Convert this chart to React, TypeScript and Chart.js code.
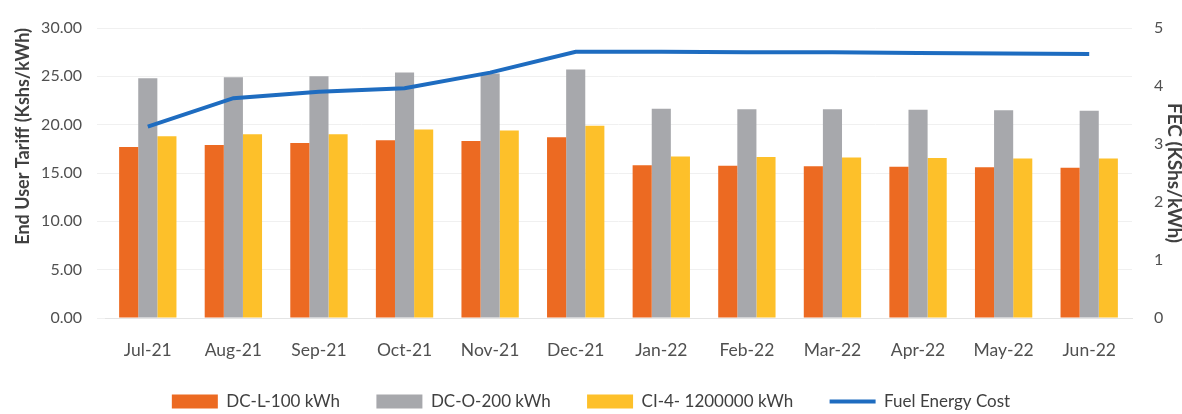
import React, { useEffect, useRef } from "react";
import { Chart, registerables } from "chart.js";

Chart.register(...registerables);

const months = ["Jul-21", "Aug-21", "Sep-21", "Oct-21", "Nov-21", "Dec-21", "Jan-22", "Feb-22", "Mar-22", "Apr-22", "May-22", "Jun-22"];
const dcL100 = [17.7, 17.9, 18.1, 18.4, 18.3, 18.7, 15.8, 15.75, 15.7, 15.65, 15.6, 15.55];
const dcO200 = [24.8, 24.9, 25.0, 25.4, 25.3, 25.7, 21.65, 21.6, 21.6, 21.55, 21.5, 21.45];
const ci4 = [18.8, 19.0, 19.0, 19.5, 19.4, 19.9, 16.7, 16.65, 16.6, 16.55, 16.5, 16.5];
const fec = [3.3, 3.79, 3.9, 3.96, 4.23, 4.59, 4.59, 4.58, 4.58, 4.57, 4.56, 4.55];
const leftTicks = [0, 5, 10, 15, 20, 25, 30];
const rightTicks = [0, 1, 2, 3, 4, 5];

const FONT = "Lato, 'Open Sans', sans-serif";
const BLUE = "#1E6CC0";

export default function App() {
  const ref = useRef<HTMLCanvasElement>(null);
  useEffect(() => {
    document.body.style.margin = "0";
    const ctx = ref.current!;
    const chart = new Chart(ctx, {
      type: "bar",
      data: {
        labels: months,
        datasets: [
          { type: "bar", label: "DC-L-100 kWh", data: dcL100, backgroundColor: "#EC6A22", yAxisID: "y", order: 1 },
          { type: "bar", label: "DC-O-200 kWh", data: dcO200, backgroundColor: "#A7A8AC", yAxisID: "y", order: 1 },
          { type: "bar", label: "CI-4- 1200000 kWh", data: ci4, backgroundColor: "#FDC02A", yAxisID: "y", order: 1 },
          {
            type: "line",
            label: "Fuel Energy Cost",
            data: fec,
            borderColor: BLUE,
            backgroundColor: BLUE,
            borderWidth: 4,
            pointRadius: 0,
            tension: 0,
            yAxisID: "y1",
            order: 0,
          } as any,
        ],
      },
      options: {
        animation: false,
        responsive: false,
        maintainAspectRatio: false,
        layout: { padding: { top: 28, bottom: -6, left: 0, right: 0 } },
        datasets: { bar: { categoryPercentage: 0.67, barPercentage: 1.0 } } as any,
        plugins: {
          tooltip: { enabled: false },
          legend: {
            position: "bottom",
            labels: {
              usePointStyle: true,
              pointStyleWidth: 46,
              boxHeight: 14,
              padding: 19,
              color: "#404040",
              font: { family: FONT, size: 17 },
              sort: (a: any, b: any) => a.datasetIndex - b.datasetIndex,
              generateLabels: (c: any) => {
                const items = Chart.defaults.plugins.legend.labels.generateLabels(c);
                return items.map((it: any) => {
                  const isLine = it.datasetIndex === 3;
                  return {
                    ...it,
                    text: isLine ? it.text : it.text + "    ",
                    pointStyle: isLine ? "line" : "rect",
                    lineWidth: isLine ? 4 : 0,
                    strokeStyle: isLine ? BLUE : it.fillStyle,
                  };
                });
              },
            },
          },
        },
        scales: {
          x: {
            grid: { display: false },
            border: { color: "#e4e4e4" },
            ticks: { color: "#505050", font: { family: FONT, size: 17.5 }, padding: 13.5 },
          },
          y: {
            position: "left",
            min: 0,
            max: 30,
            afterBuildTicks: (s: any) => { s.ticks = leftTicks.map((v) => ({ value: v })); },
            afterFit: (s: any) => { s.width = 105; },
            grid: { color: "#f0f0f0" },
            border: { display: false },
            ticks: { color: "#505050", font: { family: FONT, size: 16 }, padding: 15, callback: (v: any) => Number(v).toFixed(2) },
            title: { display: true, align: "end", text: "End User Tariff (Kshs/kWh)", color: "#404040", font: { family: FONT, size: 18, weight: "bold" }, padding: { top: 12, bottom: 0 } },
          },
          y1: {
            position: "right",
            min: 0,
            max: 5,
            afterBuildTicks: (s: any) => { s.ticks = rightTicks.map((v) => ({ value: v })); },
            afterFit: (s: any) => { s.width = 50; },
            grid: { display: false },
            border: { display: false },
            ticks: { color: "#505050", font: { family: FONT, size: 16 }, padding: 14 },
            title: { display: true, text: "FEC (KShs/kWh)", color: "#404040", font: { family: FONT, size: 19, weight: "bold" }, padding: { top: -4, bottom: 0 } },
          },
        },
      },
    });
    return () => chart.destroy();
  }, []);
  return (
    <div style={{ position: "fixed", left: 0, top: 0, width: 1182, height: 414, background: "#fff" }}>
      <canvas ref={ref} width={1182} height={414} style={{ width: 1182, height: 414 }} />
    </div>
  );
}
